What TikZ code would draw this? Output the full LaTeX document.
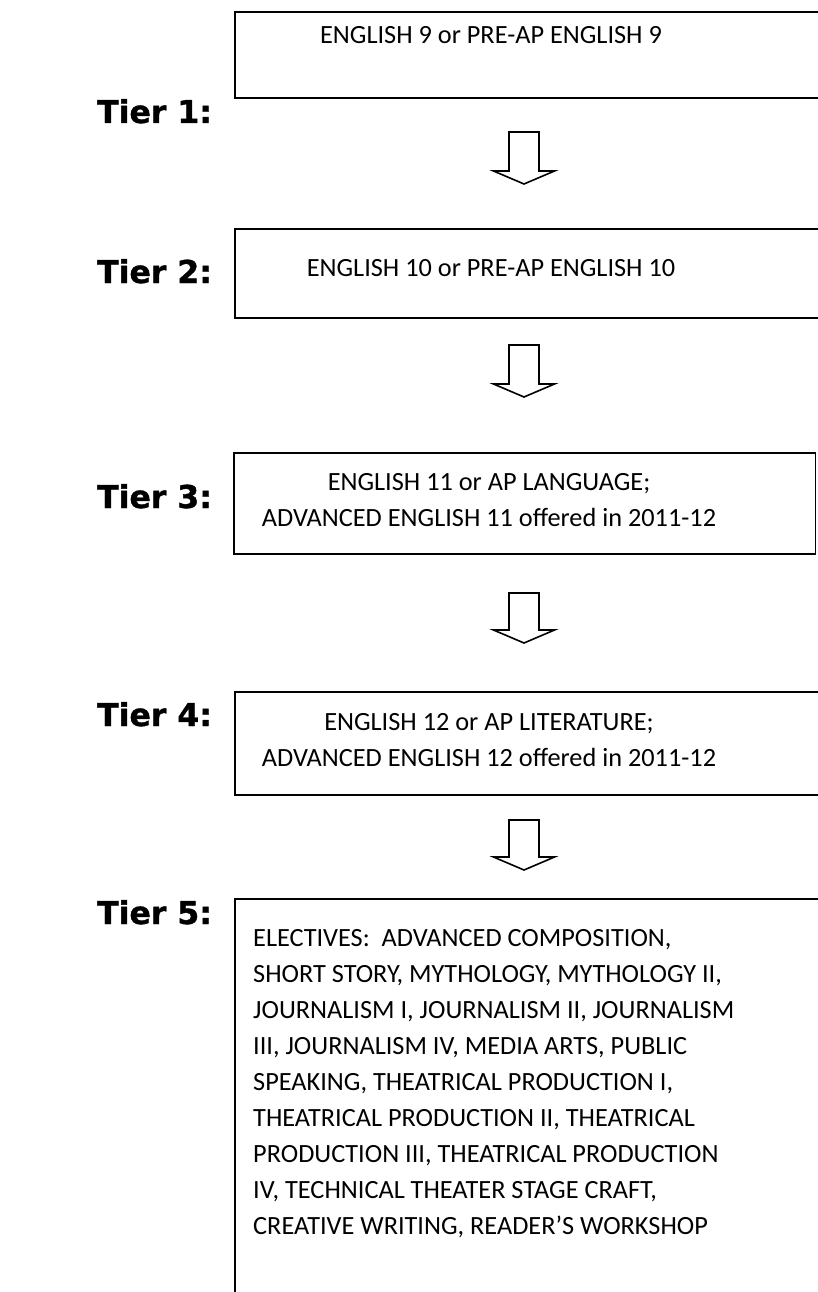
\documentclass[tikz,border=0pt]{standalone}
\usepackage{fontspec}
\setmainfont{Carlito}
\newfontfamily\tierfont[FakeBold=1.2]{DejaVu Sans Bold}
\begin{document}
\begin{tikzpicture}[x=1pt,y=-1pt,
  tier/.style={anchor=base west,inner sep=0pt,font=\tierfont\fontsize{31.5}{36}\selectfont},
  boxtext/.style={inner sep=0pt,align=center,font=\fontsize{26.3}{36}\selectfont},
  boxframe/.style={draw=black,line width=1.5pt},
  blockarrow/.style={draw=black,line width=1.6pt,fill=white,line join=miter}]
\useasboundingbox (0,0) rectangle (817,1292);
% boxes
\draw[boxframe] (235,12) rectangle (830,98);
\draw[boxframe] (235,229) rectangle (830,318);
\draw[boxframe] (234,453) rectangle (815.5,554);
\draw[boxframe] (235,692) rectangle (830,795);
\draw[boxframe] (235,1300) -- (235,899) -- (830,899);
% texts
\node[boxtext] (b1) at (491,35) {ENGLISH 9 or PRE-AP ENGLISH 9};
\node[boxtext] (b2) at (491,268) {ENGLISH 10 or PRE-AP ENGLISH 10};
\node[boxtext] (b3) at (489,500) {ENGLISH 11 or AP LANGUAGE;\\ADVANCED ENGLISH 11 offered in 2011-12};
\node[boxtext] (b4) at (489,740) {ENGLISH 12 or AP LITERATURE;\\ADVANCED ENGLISH 12 offered in 2011-12};
\node[boxtext,align=left,anchor=north west] (b5) at (253,929) {ELECTIVES:\ \ ADVANCED COMPOSITION,\\
SHORT STORY, MYTHOLOGY, MYTHOLOGY II,\\
JOURNALISM I, JOURNALISM II, JOURNALISM\\
III, JOURNALISM IV, MEDIA ARTS, PUBLIC\\
SPEAKING, THEATRICAL PRODUCTION I,\\
THEATRICAL PRODUCTION II, THEATRICAL\\
PRODUCTION III, THEATRICAL PRODUCTION\\
IV, TECHNICAL THEATER STAGE CRAFT,\\
CREATIVE WRITING, READER’S WORKSHOP};
% tier labels
\node[tier] (t1) at (97,123) {Tier 1:};
\node[tier] (t2) at (97,283) {Tier 2:};
\node[tier] (t3) at (97,508) {Tier 3:};
\node[tier] (t4) at (97,726) {Tier 4:};
\node[tier] (t5) at (97,924) {Tier 5:};
% block arrows
\foreach \n/\top/\len in {1/132/52,2/345/52,3/593/50,4/820/50}{
  \coordinate (a\n) at (524,\top);
  \draw[blockarrow] (a\n) ++(-15,0) -- ++(0,\len-13) -- ++(-15.5,0) -- ++(30.5,13) -- ++(30.5,-13) -- ++(-15.5,0) -- ++(0,13-\len) -- cycle;
}
\end{tikzpicture}
\end{document}
